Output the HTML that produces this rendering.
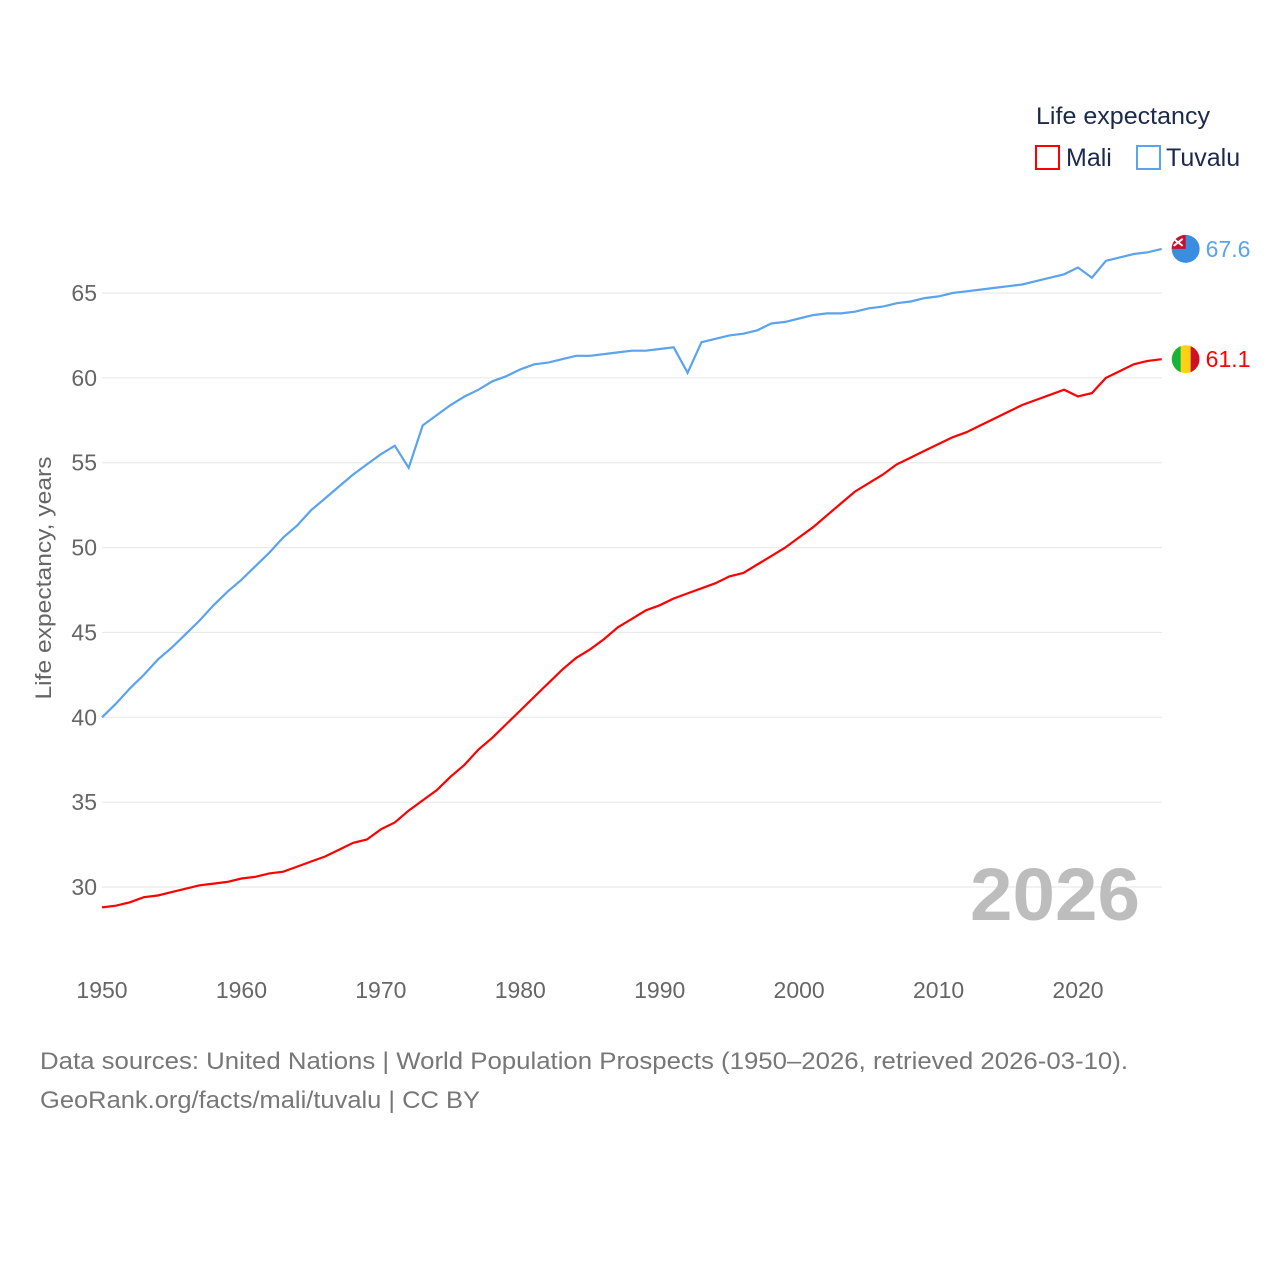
<!DOCTYPE html>
<html><head><meta charset="utf-8"><style>
body{margin:0;background:#fff;width:1280px;height:1280px;overflow:hidden;font-family:"Liberation Sans",sans-serif}
</style></head><body>
<svg id="chart" width="1280" height="1280" xmlns="http://www.w3.org/2000/svg" font-family="Liberation Sans, sans-serif">
<g id="grid"></g>
<g id="yticks"></g>
<g id="xticks"></g>
<text transform="translate(51,578) rotate(-90)" text-anchor="middle" font-size="22" fill="#666" textLength="243" lengthAdjust="spacingAndGlyphs">Life expectancy, years</text>
<text x="1140" y="920" text-anchor="end" font-size="74" font-weight="bold" fill="#bdbdbd" textLength="170" lengthAdjust="spacingAndGlyphs">2026</text>
<g id="series"></g>
<g>
<text x="1036" y="124" font-size="24" fill="#1b2a4a" textLength="174" lengthAdjust="spacingAndGlyphs">Life expectancy</text>
<g><rect x="1036" y="146" width="23" height="23" fill="none" stroke="#f00" stroke-width="2"/><text x="1066" y="166" font-size="25" fill="#1b2a4a">Mali</text></g>
<g><rect x="1137" y="146" width="23" height="23" fill="none" stroke="#5aa3ee" stroke-width="2"/><text x="1166" y="166" font-size="25" fill="#1b2a4a">Tuvalu</text></g>
</g>
<text x="40" y="1069" font-size="24" fill="#777" textLength="1088" lengthAdjust="spacingAndGlyphs">Data sources: United Nations | World Population Prospects (1950–2026, retrieved 2026-03-10).</text>
<text x="40" y="1108" font-size="24" fill="#777" textLength="440" lengthAdjust="spacingAndGlyphs">GeoRank.org/facts/mali/tuvalu | CC BY</text>
</svg>
<script>
const years=[];for(let y=1950;y<=2026;y++)years.push(y);
const tuvalu=[40.0,40.8,41.7,42.5,43.4,44.1,44.9,45.7,46.6,47.4,48.1,48.9,49.7,50.6,51.3,52.2,52.9,53.6,54.3,54.9,55.5,56.0,54.7,57.2,57.8,58.4,58.9,59.3,59.8,60.1,60.5,60.8,60.9,61.1,61.3,61.3,61.4,61.5,61.6,61.6,61.7,61.8,60.3,62.1,62.3,62.5,62.6,62.8,63.2,63.3,63.5,63.7,63.8,63.8,63.9,64.1,64.2,64.4,64.5,64.7,64.8,65.0,65.1,65.2,65.3,65.4,65.5,65.7,65.9,66.1,66.5,65.9,66.9,67.1,67.3,67.4,67.6];
const mali=[28.8,28.9,29.1,29.4,29.5,29.7,29.9,30.1,30.2,30.3,30.5,30.6,30.8,30.9,31.2,31.5,31.8,32.2,32.6,32.8,33.4,33.8,34.5,35.1,35.7,36.5,37.2,38.1,38.8,39.6,40.4,41.2,42.0,42.8,43.5,44.0,44.6,45.3,45.8,46.3,46.6,47.0,47.3,47.6,47.9,48.3,48.5,49.0,49.5,50.0,50.6,51.2,51.9,52.6,53.3,53.8,54.3,54.9,55.3,55.7,56.1,56.5,56.8,57.2,57.6,58.0,58.4,58.7,59.0,59.3,58.9,59.1,60.0,60.4,60.8,61.0,61.1];
const yTicks=[30,35,40,45,50,55,60,65];
const xTicks=[1950,1960,1970,1980,1990,2000,2010,2020];
const NS="http://www.w3.org/2000/svg";
const xs=y=>102+(y-1950)*(976/70);
const ys=v=>293+(65-v)*(594/35);
function mk(tag,attrs,parent){const e=document.createElementNS(NS,tag);for(const k in attrs)e.setAttribute(k,attrs[k]);parent.appendChild(e);return e;}
const grid=document.getElementById('grid'),yt=document.getElementById('yticks'),xt=document.getElementById('xticks'),ser=document.getElementById('series');
yTicks.forEach(v=>{
 const l=mk('line',{x1:102,x2:1162,y1:ys(v),y2:ys(v),stroke:'#e6e6e6','stroke-width':1},grid);
 
 
 const t=mk('text',{x:97,y:ys(v)+8,'text-anchor':'end','font-size':23,fill:'#666'},yt);t.textContent=v;
 
 
});
xTicks.forEach(v=>{
 const t=mk('text',{x:xs(v),y:998,'text-anchor':'middle','font-size':23,fill:'#666'},xt);t.textContent=v;
 
 
});
function line(data,color,name,flag){
 const d=data.map((v,i)=>(i?'L':'M')+xs(years[i]).toFixed(1)+','+ys(v).toFixed(1)).join('');
 const p=mk('path',{d:d,fill:'none',stroke:color,'stroke-width':2.2},ser);
 
 
 const lx=xs(years[years.length-1]),lv=data[data.length-1],ly=ys(lv);
 const g=mk('g',{},ser);
 
 
 flag(g,lx+24,ly);
 const t=mk('text',{x:lx+44,y:ly+8,'font-size':23,fill:color},ser);t.textContent=lv.toFixed(1);
 
 
}
line(tuvalu,'#5aa3ee','tuvalu',(g,cx,cy)=>{
 mk('circle',{cx:cx,cy:cy,r:14,fill:'#3b8de0'},g);
 mk('path',{d:`M${cx-14},${cy} A14,14 0 0 1 ${cx},${cy-14} L${cx},${cy} Z`,fill:'#c8102e'},g);
 mk('path',{d:`M${cx-12},${cy-10} L${cx-3},${cy-3} M${cx-3},${cy-10} L${cx-12},${cy-3}`,stroke:'#fff','stroke-width':2},g);
});
line(mali,'#f00','mali',(g,cx,cy)=>{
 mk('circle',{cx:cx,cy:cy,r:14,fill:'#fcd116'},g);
 mk('path',{d:`M${cx-5},${cy-13} A14,14 0 0 0 ${cx-5},${cy+13} Z`,fill:'#14b53a'},g);
 mk('path',{d:`M${cx+5},${cy-13} A14,14 0 0 1 ${cx+5},${cy+13} Z`,fill:'#ce1126'},g);
});
</script>
</body></html>
